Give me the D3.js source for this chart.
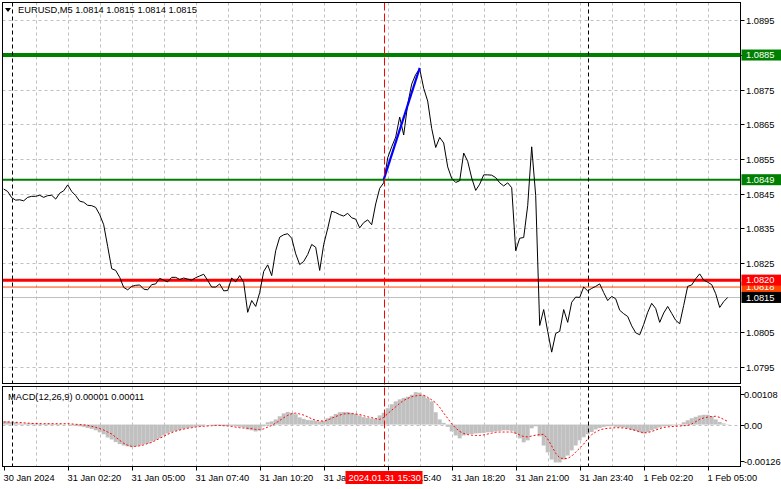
<!DOCTYPE html>
<html><head><meta charset="utf-8">
<script src="https://cdn.jsdelivr.net/npm/d3@7"></script>
<style>
body{margin:0;background:#fff}
svg{display:block}
text{font-family:"Liberation Sans",Arial,sans-serif;font-size:9.3px;fill:#000}
</style>
</head><body><svg id="c" width="781" height="489"></svg>
<script>
// ---------------- DATA ----------------
const symbol = "EURUSD,M5";
const ohlc = [1.0814, 1.0815, 1.0814, 1.0815];
const startTime = "2024-01-30T23:40:00Z";   // first sample
const stepMinutes = 10;                      // one sample every 10 minutes
const closes = [
1.08463,1.08456,1.08438,1.08431,1.08432,1.08429,1.08439,1.08442,1.08442,1.08445,
1.08439,1.08444,1.08445,1.08434,1.08451,1.08458,1.08475,1.08456,1.08444,1.08428,
1.08425,1.08416,1.08415,1.08410,1.08389,1.08360,1.08297,1.08233,1.08228,1.08208,
1.08179,1.08172,1.08182,1.08185,1.08186,1.08174,1.08172,1.08187,1.08189,1.08205,
1.08200,1.08195,1.08208,1.08208,1.08202,1.08206,1.08203,1.08200,1.08207,1.08212,
1.08217,1.08199,1.08180,1.08180,1.08189,1.08169,1.08170,1.08206,1.08195,1.08213,
1.08193,1.08107,1.08141,1.08124,1.08164,1.08225,1.08244,1.08213,1.08285,1.08324,
1.08331,1.08334,1.08321,1.08276,1.08245,1.08254,1.08274,1.08303,1.08295,1.08228,
1.08303,1.08349,1.08399,1.08395,1.08389,1.08385,1.08393,1.08380,1.08376,1.08351,
1.08366,1.08374,1.08360,1.08420,1.08465,1.08481,1.08553,1.08585,1.08613,1.08671,
1.08619,1.08708,1.08766,1.08794,1.08810,1.08754,1.08717,1.08638,1.08583,1.08612,
1.08596,1.08527,1.08494,1.08482,1.08487,1.08567,1.08543,1.08495,1.08459,1.08477,
1.08504,1.08504,1.08503,1.08496,1.08481,1.08472,1.08481,1.08467,1.08285,1.08321,
1.08323,1.08415,1.08585,1.08444,1.08069,1.08115,1.08052,1.07992,1.08046,1.08052,
1.08115,1.08078,1.08136,1.08151,1.08150,1.08180,1.08169,1.08176,1.08182,1.08189,
1.08164,1.08141,1.08153,1.08146,1.08113,1.08103,1.08095,1.08068,1.08048,1.08042,
1.08072,1.08107,1.08133,1.08118,1.08078,1.08105,1.08124,1.08104,1.08084,1.08074,
1.08127,1.08182,1.08186,1.08204,1.08218,1.08200,1.08194,1.08187,1.08161,1.08121,
1.08138,1.08150
];
const macdHist = [
0.00011,0.00011,0.00009,0.00008,0.00004,0.00003,0.00004,0.00004,0.00003,0.00003,
0.00002,0.00003,0.00003,0.00002,0.00002,0.00001,0,-0.00003,-0.00005,-0.00006,
-0.00008,-0.00012,-0.00015,-0.00020,-0.00027,-0.00034,-0.00045,-0.00052,-0.00061,-0.00068,
-0.00073,-0.00076,-0.00079,-0.00076,-0.00073,-0.00069,-0.00066,-0.00059,-0.00054,-0.00047,
-0.00038,-0.00031,-0.00026,-0.00022,-0.00019,-0.00015,-0.00012,-0.00010,-0.00008,-0.00006,
-0.00003,0,-0.00001,-0.00003,-0.00003,-0.00005,-0.00005,-0.00003,-0.00006,-0.00008,
-0.00010,-0.00017,-0.00020,-0.00024,-0.00020,-0.00006,0.00008,0.00011,0.00018,0.00029,
0.00039,0.00044,0.00041,0.00036,0.00025,0.00020,0.00016,0.00015,0.00013,0.00011,
0.00013,0.00022,0.00029,0.00037,0.00043,0.00044,0.00044,0.00041,0.00037,0.00032,
0.00026,0.00023,0.00021,0.00021,0.00032,0.00041,0.00057,0.00071,0.00081,0.00088,
0.00093,0.00097,0.00104,0.00113,0.00111,0.00102,0.00092,0.00081,0.00043,0.00018,
0.00006,-0.00008,-0.00024,-0.00038,-0.00048,-0.00038,-0.00034,-0.00033,-0.00031,-0.00030,
-0.00029,-0.00027,-0.00026,-0.00024,-0.00022,-0.00020,-0.00020,-0.00022,-0.00032,-0.00048,
-0.00062,-0.00055,-0.00013,-0.00006,-0.00041,-0.00073,-0.00097,-0.00122,-0.00132,-0.00132,
-0.00122,-0.00108,-0.00090,-0.00073,-0.00055,-0.00044,-0.00034,-0.00026,-0.00017,-0.00012,
-0.00008,-0.00006,-0.00006,-0.00008,-0.00009,-0.00010,-0.00013,-0.00019,-0.00022,-0.00027,
-0.00031,-0.00026,-0.00020,-0.00015,-0.00010,-0.00006,-0.00005,-0.00003,-0.00001,0.00002,
0.00008,0.00015,0.00022,0.00027,0.00032,0.00034,0.00034,0.00029,0.00018,0.00009,
0.00004,0.00001
];
const macdSignal = [
0.00009,0.00009,0.00009,0.00008,0.00007,0.00006,0.00005,0.00004,0.00004,0.00003,
0.00003,0.00003,0.00003,0.00003,0.00003,0.00003,0.00003,0.00002,0.00001,0,
-0.00001,-0.00003,-0.00006,-0.00010,-0.00014,-0.00019,-0.00026,-0.00033,-0.00044,-0.00055,
-0.00065,-0.00072,-0.00076,-0.00076,-0.00074,-0.00071,-0.00066,-0.00062,-0.00055,-0.00048,
-0.00041,-0.00034,-0.00028,-0.00023,-0.00019,-0.00016,-0.00013,-0.00011,-0.00009,-0.00007,
-0.00006,-0.00005,-0.00004,-0.00003,-0.00003,-0.00004,-0.00005,-0.00007,-0.00009,-0.00011,
-0.00012,-0.00013,-0.00014,-0.00017,-0.00018,-0.00015,-0.00009,-0.00003,0.00005,0.00014,
0.00024,0.00032,0.00038,0.00040,0.00037,0.00033,0.00027,0.00020,0.00015,0.00013,
0.00012,0.00016,0.00022,0.00028,0.00033,0.00037,0.00038,0.00038,0.00037,0.00035,
0.00031,0.00027,0.00024,0.00021,0.00018,0.00025,0.00038,0.00050,0.00062,0.00074,
0.00084,0.00091,0.00097,0.00100,0.00102,0.00102,0.00095,0.00086,0.00076,0.00060,
0.00040,0.00022,0.00002,-0.00012,-0.00024,-0.00031,-0.00035,-0.00037,-0.00038,-0.00038,
-0.00036,-0.00033,-0.00030,-0.00027,-0.00026,-0.00026,-0.00026,-0.00026,-0.00030,-0.00036,
-0.00042,-0.00043,-0.00040,-0.00037,-0.00035,-0.00034,-0.00050,-0.00075,-0.00100,-0.00116,
-0.00119,-0.00118,-0.00110,-0.00096,-0.00082,-0.00068,-0.00050,-0.00035,-0.00026,-0.00019,
-0.00015,-0.00013,-0.00012,-0.00011,-0.00011,-0.00012,-0.00014,-0.00017,-0.00021,-0.00025,
-0.00029,-0.00028,-0.00024,-0.00019,-0.00014,-0.00010,-0.00008,-0.00007,-0.00006,-0.00005,
-0.00004,-0.00003,0.00002,0.00010,0.00018,0.00023,0.00026,0.00028,0.00029,0.00025,
0.00018,0.00011
];
const macdParams = "MACD(12,26,9)";
const macdNow = ["0.00001", "0.00011"];
const priceTicks = [1.0795, 1.0805, 1.0815, 1.0825, 1.0835, 1.0845, 1.0855, 1.0865, 1.0875, 1.0885, 1.0895];
const priceTickLabels = ["1.0795","1.0805","1.0815","1.0825","1.0835","1.0845","1.0855","1.0865","1.0875","1.0885","1.0895"];
const macdTicks = [0.00108, 0, -0.00126];
const macdTickLabels = ["0.00108", "0.00", "-0.00126"];
const levelValues = [1.0885, 1.0849, 1.0818, 1.0820];
const levelLabels = ["1.0885", "1.0849", "1.0818", "1.0820"];
const levelColors = ["#008000", "#008000", "#ff4500", "#ff0000"];
const bidValue = 1.0815, bidLabel = "1.0815";
const trendTimes = ["2024-01-31T15:30:00Z", "2024-01-31T17:00:00Z"];
const trendPrices = [1.0849, 1.08813];
const markerTime = "2024-01-31T15:30:00Z";
const markerLabel = "2024.01.31 15:30";
const daySeparators = ["2024-01-31T00:00:00Z", "2024-02-01T00:00:00Z"];
const timeLabelStep = 160; // minutes between time labels
const gridStep = 80;       // minutes between vertical grid lines
const timeLabelCount = 12;
const firstTimeLabel = "30 Jan 2024";

// ---------------- LAYOUT ----------------
const L = 2.5, R = 740.5, T = 2.5, MB = 383.5, MT = 386.5, B = 466.5;
const svg = d3.select("#c");
const t0 = new Date(startTime);
const minute = 60000;
const x = d3.scaleUtc().domain([t0, new Date(+t0 + 1842.5 * minute)]).range([3.7, 740.7]);
const y = d3.scaleLinear().domain([1.0795, 1.0895]).range([366.7, 20.4]);
const ym = d3.scaleLinear().domain([-0.00126, 0.00108]).range([460.7, 393.6]);
const times = closes.map((_, i) => new Date(+t0 + i * stepMinutes * minute));

const defs = svg.append("defs");
defs.append("clipPath").attr("id", "cm").append("rect").attr("x", L).attr("y", T).attr("width", R - L).attr("height", MB - T);
defs.append("clipPath").attr("id", "cd").append("rect").attr("x", L).attr("y", MT).attr("width", R - L).attr("height", B - MT);

const main = svg.append("g").attr("clip-path", "url(#cm)");
const macd = svg.append("g").attr("clip-path", "url(#cd)");

// vertical grid
const gridTimes = d3.range(1, 24).map(n => new Date(+t0 + n * gridStep * minute)).filter(d => x(d) < R);
[main, macd].forEach((g, gi) => {
  g.selectAll(null).data(gridTimes).join("line")
    .attr("x1", d => Math.round(x(d)) + 0.5).attr("x2", d => Math.round(x(d)) + 0.5)
    .attr("y1", gi ? MT : T).attr("y2", gi ? B : MB)
    .attr("stroke", "#c0c0c0").attr("stroke-dasharray", "3,3");
});
// horizontal grid (main)
main.selectAll(null).data(priceTicks).join("line")
  .attr("x1", L).attr("x2", R)
  .attr("y1", d => Math.round(y(d)) + 0.5).attr("y2", d => Math.round(y(d)) + 0.5)
  .attr("stroke", "#c0c0c0").attr("stroke-dasharray", "3,3");

// bid line
main.append("line").attr("x1", L).attr("x2", R)
  .attr("y1", Math.round(y(bidValue)) + 0.5).attr("y2", Math.round(y(bidValue)) + 0.5)
  .attr("stroke", "#c0c0c0");
// levels
const levelWidths = [4, 2, 1, 3];
levelValues.forEach((v, i) => {
  main.append("line").attr("x1", L).attr("x2", R).attr("y1", y(v)).attr("y2", y(v))
    .attr("stroke", levelColors[i]).attr("stroke-width", levelWidths[i]);
});

// day separators
daySeparators.forEach(s => {
  const xx = Math.round(x(new Date(s))) + 0.5;
  [[T, MB], [MT, B]].forEach(([a, b]) =>
    svg.append("line").attr("x1", xx).attr("x2", xx).attr("y1", a).attr("y2", b)
      .attr("stroke", "#000").attr("stroke-dasharray", "4,3"));
});

// price line
main.append("path").datum(closes)
  .attr("d", d3.line().x((d, i) => x(times[i])).y(d => y(d)))
  .attr("fill", "none").attr("stroke", "#000").attr("stroke-width", 1);

// trend line (blue)
main.append("path").datum(trendPrices)
  .attr("d", d3.line().x((d, i) => x(new Date(trendTimes[i]))).y(d => y(d)))
  .attr("fill", "none").attr("stroke", "#0000ff").attr("stroke-width", 2.2);

// MACD zero level
macd.append("line").attr("x1", L).attr("x2", R).attr("y1", Math.round(ym(0)) + 0.5).attr("y2", Math.round(ym(0)) + 0.5)
  .attr("stroke", "#c0c0c0").attr("stroke-dasharray", "3,3");
// MACD histogram
macd.selectAll(null).data(macdHist).join("rect")
  .attr("x", (d, i) => x(times[i]) - 2).attr("width", 4)
  .attr("y", d => Math.min(ym(d), ym(0))).attr("height", d => Math.abs(ym(d) - ym(0)))
  .attr("fill", "#c0c0c0");
// signal
macd.append("path").datum(macdSignal)
  .attr("d", d3.line().x((d, i) => x(times[i])).y(d => ym(d)))
  .attr("fill", "none").attr("stroke", "#ff0000").attr("stroke-width", 1).attr("stroke-dasharray", "2,2");

// marker vertical red dashed
const mx = Math.round(x(new Date(markerTime))) + 0.5;
svg.append("line").attr("x1", mx).attr("x2", mx).attr("y1", T).attr("y2", B)
  .attr("stroke", "#ff0000").attr("stroke-dasharray", "8,3");

// frames
svg.append("rect").attr("x", L).attr("y", T).attr("width", R - L).attr("height", MB - T).attr("fill", "none").attr("stroke", "#000");
svg.append("rect").attr("x", L).attr("y", MT).attr("width", R - L).attr("height", B - MT).attr("fill", "none").attr("stroke", "#000");

// title
svg.append("path").attr("d", "M5,8 L11,8 L8,12 Z").attr("fill", "#000");
svg.append("text").attr("x", 18).attr("y", 13).text(symbol + "  " + ohlc.map(v => v.toFixed(4)).join(" "));
svg.append("text").attr("x", 8).attr("y", 400).text(macdParams + " " + macdNow.join(" "));

// right price axis
priceTicks.forEach((v, i) => {
  if (v === bidValue) return;
  const yy = Math.round(y(v)) + 0.5;
  svg.append("line").attr("x1", R).attr("x2", R + 4).attr("y1", yy).attr("y2", yy).attr("stroke", "#000");
  svg.append("text").attr("x", 746).attr("y", yy).attr("dy", "0.35em").text(priceTickLabels[i]);
});
// level tags: draw orange first, then red, then bid
function tag(v, label, bg, fg) {
  const yy = y(v);
  svg.append("rect").attr("x", R + 1).attr("y", yy - 5.5).attr("width", 781 - R).attr("height", 11).attr("fill", bg);
  svg.append("text").attr("x", 746).attr("y", yy).attr("dy", "0.35em").style("fill", fg).text(label);
}
levelValues.forEach((v, i) => tag(v, levelLabels[i], levelColors[i], "#fff"));
tag(bidValue, bidLabel, "#000", "#fff");

// MACD axis
macdTicks.forEach((v, i) => {
  const yy = Math.round(ym(v)) + 0.5;
  svg.append("line").attr("x1", R).attr("x2", R + 4).attr("y1", yy).attr("y2", yy).attr("stroke", "#000");
  svg.append("text").attr("x", 744).attr("y", yy).attr("dy", "0.35em").text(macdTickLabels[i]);
});

// time axis
const fmt = d3.utcFormat("%-d %b %H:%M");
d3.range(timeLabelCount).forEach(n => {
  const t = new Date(+t0 + n * timeLabelStep * minute);
  const xx = Math.round(x(t)) + 0.5;
  svg.append("line").attr("x1", xx).attr("x2", xx).attr("y1", B).attr("y2", B + 4).attr("stroke", "#000");
  svg.append("text").attr("x", xx - 1).attr("y", 481).text(n === 0 ? firstTimeLabel : fmt(t));
});
// marker time tag
svg.append("rect").attr("x", mx - 39).attr("y", 471).attr("width", 77).attr("height", 13).attr("fill", "#ff0000");
svg.append("text").attr("x", mx - 36).attr("y", 481).style("fill", "#fff").text(markerLabel);
</script>
</body></html>
